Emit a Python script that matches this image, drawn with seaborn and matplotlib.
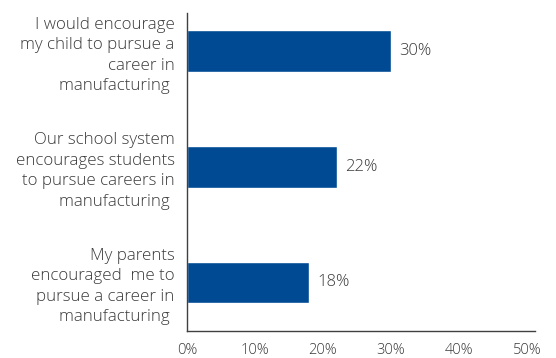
import matplotlib
matplotlib.use("Agg")
import matplotlib.pyplot as plt
import seaborn as sns
import pandas as pd

categories = [
    "I would encourage\nmy child to pursue a\ncareer in\nmanufacturing ",
    "Our school system\nencourages students\nto pursue careers in\nmanufacturing ",
    "My parents\nencouraged  me to\npursue a career in\nmanufacturing ",
]
values = [0.30, 0.22, 0.18]
value_labels = ["30%", "22%", "18%"]
xtick_vals = [0, 0.1, 0.2, 0.3, 0.4, 0.5]
xtick_labels = ["0%", "10%", "20%", "30%", "40%", "50%"]

sns.set_style("white")
plt.rcParams["font.family"] = ["Open Sans", "DejaVu Sans"]
text_color = "#3a3a3a"

df = pd.DataFrame({"cat": categories, "val": values})

fig = plt.figure(figsize=(5.56, 3.58), dpi=100)
ax = fig.add_axes([187/556, (358-331)/358, (535-187)/556, (331-13)/358])
sns.barplot(data=df, y="cat", x="val", orient="h", color="#004A93",
            width=0.36, ax=ax, saturation=1)

for i, (v, lab) in enumerate(zip(values, value_labels)):
    ax.text(v + 0.012, i, lab, va="center", ha="left", fontsize=12,
            color=text_color, fontweight="light")

ax.set_xlim(0, 0.512)
ax.set_ylim(2.42, -0.33)
ax.set_xticks(xtick_vals)
ax.set_xticklabels(xtick_labels, fontsize=10.5, color=text_color, fontweight="light")
ax.set_yticks(range(len(categories)))
ax.set_yticklabels(categories, fontsize=12.2, color=text_color, ha="right",
                   multialignment="right", linespacing=1.37, fontweight="light")
ax.tick_params(axis="x", length=0, pad=9)
ax.tick_params(axis="y", length=0, pad=9)
ax.set_xlabel("")
ax.set_ylabel("")
for s in ["top", "right"]:
    ax.spines[s].set_visible(False)
for s in ["left", "bottom"]:
    ax.spines[s].set_color("#404040")
    ax.spines[s].set_linewidth(1.0)

fig.savefig("out.png", dpi=100)
